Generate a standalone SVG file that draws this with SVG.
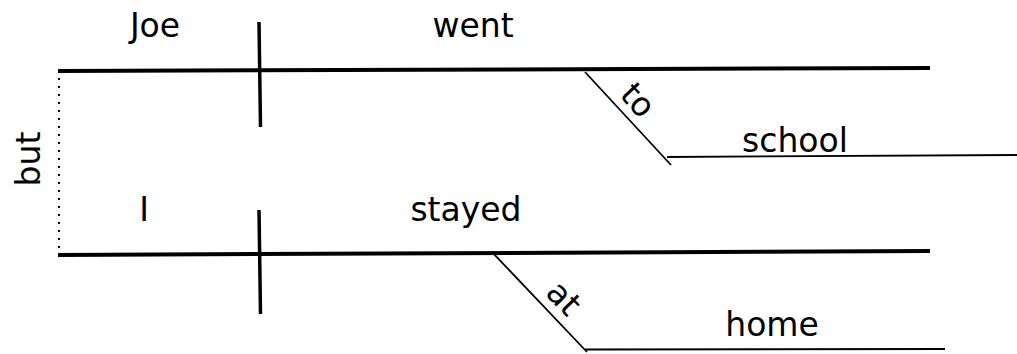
<svg xmlns="http://www.w3.org/2000/svg" width="1017" height="354" viewBox="0 0 1017 354">
  <style>
    .word { font-family: "DejaVu Sans", "Liberation Sans", sans-serif; font-size: 33px; fill: #000; text-anchor: middle; }
    .base { stroke: #000; stroke-width: 4; fill: none; stroke-linecap: butt; }
    .divider { stroke: #000; stroke-width: 3.5; fill: none; }
    .modifier { stroke: #000; stroke-width: 1.8; fill: none; }
    .conj { stroke: #000; stroke-width: 2; fill: none; stroke-dasharray: 2 6; }
  </style>
  <rect width="1017" height="354" fill="#fff"/>

  <g id="connectors">
    <!-- coordinating conjunction link between the two clauses -->
    <line class="conj" x1="59" y1="70" x2="59" y2="262"/>
    <!-- clause 1 baseline and subject/predicate divider -->
    <line class="base" x1="58" y1="71" x2="930" y2="68"/>
    <line class="divider" x1="259" y1="22" x2="260.5" y2="127"/>
    <!-- clause 2 baseline and subject/predicate divider -->
    <line class="base" x1="58" y1="255" x2="930" y2="251"/>
    <line class="divider" x1="259" y1="210" x2="260.5" y2="314"/>
    <!-- prepositional phrases -->
    <line class="modifier" x1="585" y1="72" x2="671" y2="165"/>
    <line class="modifier" x1="667" y1="157" x2="1017" y2="155"/>
    <line class="modifier" x1="492" y1="252" x2="587" y2="352"/>
    <line class="modifier" x1="585" y1="349.5" x2="945" y2="349"/>
  </g>

  <g id="node-joe"><text class="word" x="155" y="37">Joe</text></g>
  <g id="node-went"><text class="word" x="473" y="37">went</text></g>
  <g id="node-to"><text class="word" transform="translate(637,101) rotate(47)" y="10">to</text></g>
  <g id="node-school"><text class="word" x="795" y="152">school</text></g>
  <g id="node-but"><text class="word" transform="translate(40,159) rotate(-90)">but</text></g>
  <g id="node-i"><text class="word" x="144" y="221">I</text></g>
  <g id="node-stayed"><text class="word" x="466" y="221">stayed</text></g>
  <g id="node-at"><text class="word" transform="translate(563,299) rotate(46)" y="10">at</text></g>
  <g id="node-home"><text class="word" x="772" y="336">home</text></g>
</svg>
